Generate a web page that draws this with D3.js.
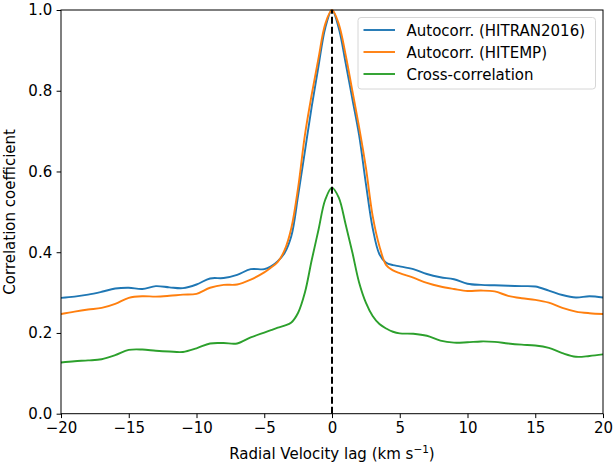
<!DOCTYPE html>
<html>
<head>
<meta charset="utf-8">
<script src="https://cdn.jsdelivr.net/npm/d3@7"></script>
<style>
  html, body { margin: 0; padding: 0; background: #fff; }
  svg text { font-family: "DejaVu Sans", sans-serif; }
</style>
</head>
<body>
<svg id="chart" width="614" height="467"></svg>
<script>
// ---- data ----
const lags = [-20,-19,-18,-17,-16,-15,-14,-13,-12,-11,-10,-9,-8,-7,-6,-5,-4.5,-4,-3.5,-3,-2.5,-2,-1.5,-1,-0.5,0,0.5,1,1.5,2,2.5,3,3.5,4,4.5,5,6,7,8,9,10,11,12,13,14,15,16,17,18,19,20];
const hitran = [0.287,0.290,0.295,0.302,0.310,0.312,0.309,0.316,0.313,0.311,0.320,0.335,0.336,0.344,0.358,0.358,0.365,0.378,0.398,0.44,0.54,0.65,0.76,0.86,0.955,1.0,0.955,0.87,0.78,0.69,0.57,0.46,0.395,0.374,0.368,0.365,0.358,0.346,0.338,0.333,0.322,0.319,0.318,0.317,0.316,0.315,0.305,0.294,0.288,0.291,0.288];
const hitemp = [0.247,0.253,0.258,0.262,0.272,0.287,0.291,0.290,0.292,0.295,0.297,0.312,0.319,0.320,0.332,0.350,0.362,0.376,0.405,0.46,0.56,0.69,0.79,0.88,0.965,1.0,0.965,0.89,0.80,0.71,0.61,0.49,0.415,0.368,0.355,0.348,0.337,0.324,0.315,0.309,0.304,0.305,0.303,0.292,0.286,0.282,0.275,0.262,0.253,0.249,0.247];
const cross = [0.127,0.130,0.132,0.135,0.145,0.158,0.159,0.156,0.154,0.153,0.162,0.174,0.175,0.174,0.189,0.201,0.207,0.213,0.218,0.226,0.25,0.30,0.38,0.455,0.53,0.56,0.535,0.47,0.40,0.325,0.275,0.242,0.222,0.211,0.203,0.199,0.198,0.193,0.181,0.176,0.177,0.179,0.178,0.174,0.171,0.169,0.163,0.150,0.141,0.143,0.147];
const seriesNames = ["Autocorr. (HITRAN2016)", "Autocorr. (HITEMP)", "Cross-correlation"];
const seriesColors = ["#1f77b4", "#ff7f0e", "#2ca02c"];
const xTicks = [-20,-15,-10,-5,0,5,10,15,20];
const yTicks = [0.0,0.2,0.4,0.6,0.8,1.0];

// ---- layout ----
const FS = "15px";
const svg = d3.select("#chart");
const m = {left: 61, right: 11, top: 10, bottom: 53.3};
const W = 614, H = 467;
const x = d3.scaleLinear().domain([-20, 20]).range([m.left, W - m.right]);
const y = d3.scaleLinear().domain([0, 1]).range([H - m.bottom, m.top]);

const series = [hitran, hitemp, cross];

svg.append("clipPath").attr("id", "clip").append("rect")
  .attr("x", m.left).attr("y", m.top - 2)
  .attr("width", x(20) - x(-20)).attr("height", y(0) - y(1) + 2);

const line = d3.line().x(d => x(d[0])).y(d => y(d[1])).curve(d3.curveCatmullRom.alpha(0.5));
const g = svg.append("g").attr("clip-path", "url(#clip)");
series.forEach((s, i) => {
  g.append("path")
    .datum(lags.map((l, j) => [l, s[j]]))
    .attr("d", line)
    .attr("fill", "none")
    .attr("stroke", seriesColors[i])
    .attr("stroke-width", 1.9)
    .attr("stroke-linejoin", "round")
    .attr("stroke-linecap", "square");
});

// dashed zero line
svg.append("line")
  .attr("x1", x(0)).attr("x2", x(0))
  .attr("y1", y(0)).attr("y2", y(1))
  .attr("stroke", "#000").attr("stroke-width", 2)
  .attr("stroke-dasharray", "7,3");

// axes
const fmtX = d => (d < 0 ? "\u2212" + Math.abs(d) : String(d));
const xAxis = d3.axisBottom(x).tickValues(xTicks).tickFormat(fmtX).tickSizeOuter(0).tickSize(4.4).tickPadding(4.4);
const yAxis = d3.axisLeft(y).tickValues(yTicks).tickFormat(d3.format(".1f")).tickSizeOuter(0).tickSize(4.4).tickPadding(4.4);

const gx = svg.append("g").attr("transform", `translate(0,${y(0)})`).call(xAxis);
const gy = svg.append("g").attr("transform", `translate(${m.left},0)`).call(yAxis);
[gx, gy].forEach(a => {
  a.select(".domain").remove();
  a.selectAll("line").attr("stroke", "#000").attr("stroke-width", 1);
  a.selectAll("text").attr("font-size", FS).attr("fill", "#000")
    .attr("font-family", "DejaVu Sans, sans-serif");
});

// frame
svg.append("rect")
  .attr("x", x(-20)).attr("y", y(1))
  .attr("width", x(20) - x(-20)).attr("height", y(0) - y(1))
  .attr("fill", "none").attr("stroke", "#000").attr("stroke-width", 1);

// axis labels
const xl = svg.append("text")
  .attr("x", (x(-20) + x(20)) / 2).attr("y", 459)
  .attr("text-anchor", "middle").attr("font-size", FS).attr("fill", "#000");
xl.append("tspan").text("Radial Velocity lag (km s");
xl.append("tspan").attr("dy", -6).attr("font-size", "10.5px").text("\u22121");
xl.append("tspan").attr("dy", 6).text(")");

svg.append("text")
  .attr("transform", `translate(15,${(y(0) + y(1)) / 2}) rotate(-90)`)
  .attr("text-anchor", "middle").attr("font-size", FS).attr("fill", "#000")
  .text("Correlation coefficient");

// legend
const lg = svg.append("g");
lg.append("rect")
  .attr("x", 358).attr("y", 17.5).attr("width", 237.5).attr("height", 71.5)
  .attr("rx", 3).attr("ry", 3)
  .attr("fill", "#fff").attr("fill-opacity", 0.8)
  .attr("stroke", "#d6d6d6").attr("stroke-width", 1);
seriesNames.forEach((name, i) => {
  const cy = 30 + i * 22;
  lg.append("line")
    .attr("x1", 363.5).attr("x2", 395).attr("y1", cy).attr("y2", cy)
    .attr("stroke", seriesColors[i]).attr("stroke-width", 1.9);
  lg.append("text")
    .attr("x", 406.5).attr("y", cy + 5.5)
    .attr("font-size", FS).attr("fill", "#000")
    .text(name);
});
</script>
</body>
</html>
